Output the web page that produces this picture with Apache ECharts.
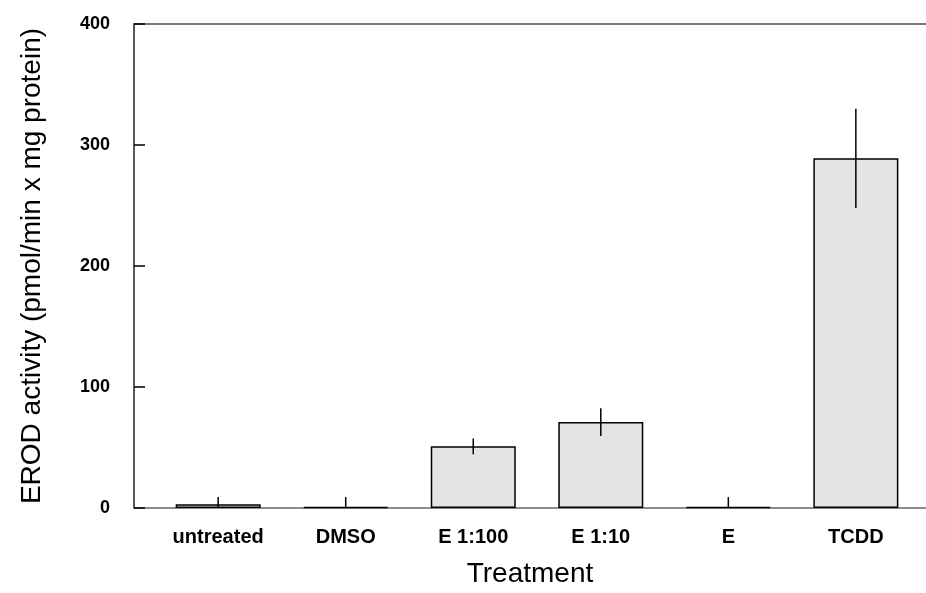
<!DOCTYPE html>
<html>
<head>
<meta charset="utf-8">
<script src="https://cdn.jsdelivr.net/npm/echarts@6/dist/echarts.min.js"></script>
<style>html,body{margin:0;padding:0;background:#fff;}#c{width:926px;height:593px;}</style>
</head>
<body>
<div id="c"></div>
<script>
const categories = ['untreated', 'DMSO', 'E 1:100', 'E 1:10', 'E', 'TCDD'];
const means = [3, 1, 51, 71, 1, 289];
const errors = [6, 8, 6.5, 11.5, 8, 41];
const yTicks = [0, 100, 200, 300, 400];

const FONT = '"Liberation Sans", Arial, sans-serif';
const chart = echarts.init(document.getElementById('c'), null, {renderer: 'canvas'});

const barData = means.map((v, i) => [i, v]);
const errData = means.map((v, i) => [i, v, errors[i]]);

chart.setOption({
  animation: false,
  backgroundColor: '#fff',
  grid: {left: 134, right: 0, top: 24, bottom: 82},
  xAxis: [
    {
      type: 'value', min: -0.66, max: 5.55, position: 'bottom',
      axisLine: {show: true, onZero: false, lineStyle: {color: '#666', width: 1.5}},
      axisTick: {show: false}, axisLabel: {show: false}, splitLine: {show: false},
      name: 'Treatment', nameLocation: 'middle', nameGap: 52,
      nameTextStyle: {fontFamily: FONT, fontSize: 28, color: '#000'}
    },
    {
      type: 'value', min: -0.66, max: 5.55, position: 'top',
      axisLine: {show: true, onZero: false, lineStyle: {color: '#777', width: 2}},
      axisTick: {show: false}, axisLabel: {show: false}, splitLine: {show: false}
    }
  ],
  yAxis: {
    type: 'value', min: yTicks[0], max: yTicks[yTicks.length - 1], interval: 100,
    axisLine: {show: true, onZero: false, lineStyle: {color: '#222', width: 1.5}},
    axisTick: {show: true, inside: true, length: 11, lineStyle: {color: '#000', width: 1.5}},
    axisLabel: {fontFamily: FONT, fontSize: 18, fontWeight: 'bold', color: '#000', margin: 24},
    splitLine: {show: false},
    name: 'EROD activity (pmol/min x mg protein)', nameLocation: 'middle', nameGap: 88,
    nameTextStyle: {fontFamily: FONT, fontSize: 28, color: '#000'}
  },
  series: [
    {
      type: 'bar', data: barData, barWidth: 85,
      itemStyle: {color: '#e4e4e4', borderColor: '#000', borderWidth: 1.5},
      label: {
        show: true, position: 'bottom', distance: 19,
        formatter: p => categories[p.dataIndex],
        fontFamily: FONT, fontSize: 20, fontWeight: 'bold', color: '#000'
      }
    },
    {
      type: 'custom', data: errData, clip: true, z: 5,
      renderItem: function (params, api) {
        const x = api.value(0), v = api.value(1), e = api.value(2);
        const p1 = api.coord([x, v + e]);
        const p2 = api.coord([x, v - e]);
        return {
          type: 'line',
          shape: {x1: p1[0], y1: p1[1], x2: p2[0], y2: p2[1]},
          style: {stroke: '#000', lineWidth: 1.5}
        };
      }
    }
  ]
});
</script>
</body>
</html>
